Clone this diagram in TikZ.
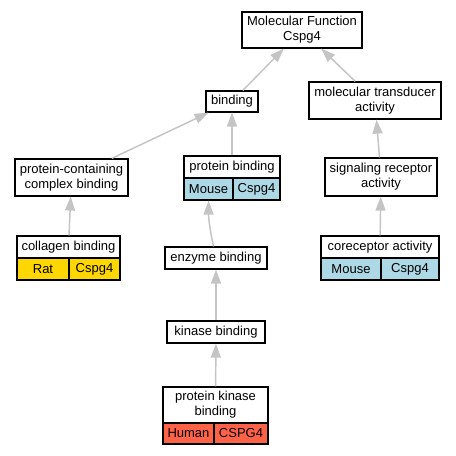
\documentclass[tikz,border=0pt]{standalone}
\usepackage{fontspec}
\setmainfont{Liberation Sans}
\usetikzlibrary{arrows.meta}

\definecolor{ratgold}{RGB}{255,215,0}
\definecolor{mouseblue}{RGB}{173,216,230}
\definecolor{humanred}{RGB}{255,99,71}
\definecolor{edgegray}{RGB}{196,196,196}

\begin{document}
\begin{tikzpicture}[x=0.75pt, y=-0.75pt,
  box/.style={draw=black, line width=0.9pt, fill=white, inner sep=0pt,
    align=center, font=\fontsize{9.75}{11.25}\selectfont},
  edge/.style={draw=edgegray, line width=1.1pt,
    -{Triangle[length=10.5pt,width=7.5pt]}}]

\useasboundingbox (0,0) rectangle (456,456);

% Terms
\node[box, minimum width=90pt, minimum height=27pt] (mf) at (302,30) {Molecular Function\\Cspg4};
\node[box, minimum width=39pt, minimum height=15.75pt] (bind) at (232,101.5) {binding};
\node[box, minimum width=99pt, minimum height=27.75pt] (mta) at (375,100.5) {molecular transducer\\activity};
\node[box, minimum width=84.75pt, minimum height=27.75pt] (pccb) at (71.5,177.5) {protein-containing\\complex binding};
\node[box, minimum width=84pt, minimum height=28.5pt] (sra) at (381,177) {signaling receptor\\activity};
\node[box, minimum width=76.5pt, minimum height=16.5pt] (eb) at (216,258) {enzyme binding};
\node[box, minimum width=73.5pt, minimum height=16.5pt] (kb) at (216,332) {kinase binding};

% Terms with species
\node[box, minimum width=72pt, minimum height=16.5pt] (pb) at (232,167) {protein binding};
\node[box, fill=mouseblue, minimum width=36.75pt, minimum height=16.5pt] (pbm) at (208.5,189) {Mouse};
\node[box, fill=mouseblue, minimum width=35.25pt, minimum height=16.5pt] (pbg) at (256.5,189) {Cspg4};

\node[box, minimum width=77.25pt, minimum height=16.5pt] (cb) at (68.5,247) {collagen binding};
\node[box, fill=ratgold, minimum width=39pt, minimum height=16.5pt] (cbr) at (43,269) {Rat};
\node[box, fill=ratgold, minimum width=38.25pt, minimum height=16.5pt] (cbg) at (94.5,269) {Cspg4};

\node[box, minimum width=88.5pt, minimum height=16.5pt] (ca) at (380,247) {coreceptor activity};
\node[box, fill=mouseblue, minimum width=45pt, minimum height=16.5pt] (cam) at (351,269) {Mouse};
\node[box, fill=mouseblue, minimum width=43.5pt, minimum height=16.5pt] (cag) at (410,269) {Cspg4};

\node[box, minimum width=78.75pt, minimum height=27pt] (pkb) at (215.5,405) {protein kinase\\binding};
\node[box, fill=humanred, minimum width=38.25pt, minimum height=15.75pt] (pkbh) at (188.5,433.5) {Human};
\node[box, fill=humanred, minimum width=40.5pt, minimum height=15.75pt] (pkbg) at (241,433.5) {CSPG4};

% Links
\draw[edge] (bind) -- (mf);
\draw[edge] (mta) -- (mf);
\draw[edge] (pccb) -- (bind);
\draw[edge] (pb) -- (bind);
\draw[edge] (sra) -- (mta);
\draw[edge] (cb) -- (pccb);
\draw[edge] (eb) to[bend left=6] (pbm);
\draw[edge] (ca) -- (sra);
\draw[edge] (kb) -- (eb);
\draw[edge] (pkb) -- (kb);

\end{tikzpicture}
\end{document}
